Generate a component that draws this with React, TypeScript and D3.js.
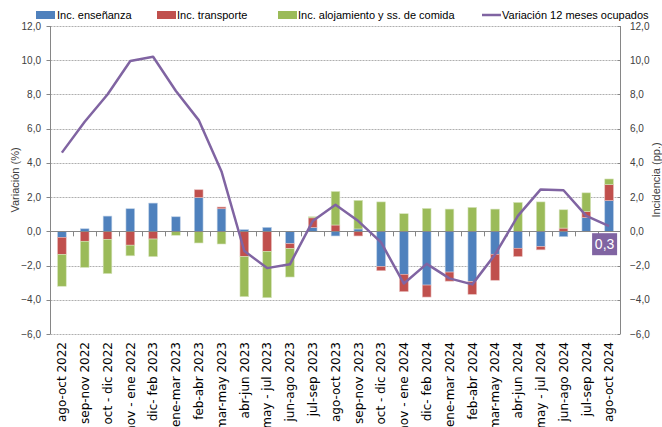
import React from "react";
import * as d3 from "d3";

const categories = [
  "ago-oct 2022", "sep-nov 2022", "oct - dic 2022", "nov - ene 2022", "dic- feb 2023",
  "ene-mar 2023", "feb-abr 2023", "mar-may 2023", "abr-jun 2023", "may - jul 2023",
  "jun-ago 2023", "jul-sep 2023", "ago-oct 2023", "sep-nov 2023", "oct - dic 2023",
  "nov - ene 2024", "dic- feb 2024", "ene-mar 2024", "feb-abr 2024", "mar-may 2024",
  "abr-jun 2024", "may - jul 2024", "jun-ago 2024", "jul-sep 2024", "ago-oct 2024",
];

const ensenanza = [
  -0.35, 0.15, 0.89, 1.32, 1.65, 0.85, 1.98, 1.32, 0.1, 0.23, -0.72, 0.23, -0.27,
  0.14, -2.05, -2.51, -3.14, -2.38, -2.94, -1.34, -0.99, -0.89, -0.31, 0.81, 1.8,
];
const transporte = [
  -1.0, -0.58, -0.47, -0.81, -0.45, 0, 0.45, 0.1, -1.48, -1.17, -0.29, 0.56, 0.37,
  -0.27, -0.25, -1.01, -0.7, -0.53, -0.74, -1.52, -0.48, -0.19, 0.19, 0.35, 0.93,
];
const alojamiento = [
  -1.86, -1.53, -2.0, -0.62, -1.03, -0.23, -0.68, -0.74, -2.34, -2.71, -1.66, 0.06,
  1.96, 1.67, 1.72, 1.03, 1.34, 1.3, 1.4, 1.3, 1.69, 1.72, 1.07, 1.09, 0.33,
];
const ocupados = [
  4.6, 6.4, 8.0, 9.95, 10.2, 8.2, 6.5, 3.5, -1.15, -2.15, -1.93, 0.6, 1.55, 0.6,
  -0.65, -3.05, -1.9, -2.75, -3.1, -1.35, 0.9, 2.45, 2.4, 0.9, 0.3,
];

const yTicks = [-6, -4, -2, 0, 2, 4, 6, 8, 10, 12];

const series = [
  { name: "Inc. enseñanza", values: ensenanza, color: "#4F81BD", edge: "#B9CDE5" },
  { name: "Inc. transporte", values: transporte, color: "#C0504D", edge: "#E6B9B8" },
  { name: "Inc. alojamiento y ss. de comida", values: alojamiento, color: "#9BBB59", edge: "#D7E4BD" },
];
const lineColor = "#8064A2";

const width = 662;
const height = 427;
const left = 50.5;
const right = 620.5;
const top = 26;
const bottom = 334;
const font = "'Liberation Sans', Arial, sans-serif";

const fmt = d3.formatLocale({
  decimal: ",",
  thousands: ".",
  grouping: [3],
  currency: ["", "€"],
}).format(".1f");

export default function App() {
  const x = d3.scaleBand<string>().domain(categories).range([left, right]).padding(0);
  const y = d3.scaleLinear().domain([-6, 12]).range([bottom, top]);
  const bw = x.bandwidth() * 0.38;

  // excel-style stacking: positives up, negatives down, in series order
  const bars: { x: number; y0: number; y1: number; s: (typeof series)[0] }[] = [];
  categories.forEach((c, i) => {
    let pos = 0;
    let neg = 0;
    const bx = x(c)! + (x.bandwidth() - bw) / 2;
    series.forEach((s) => {
      const v = s.values[i];
      if (v >= 0) {
        bars.push({ x: bx, y0: pos, y1: pos + v, s });
        pos += v;
      } else {
        bars.push({ x: bx, y0: neg, y1: neg + v, s });
        neg += v;
      }
    });
  });

  const line = d3
    .line<number>()
    .x((_, i) => x(categories[i])! + x.bandwidth() / 2)
    .y((d) => y(d));

  const lastX = x(categories[categories.length - 1])! + x.bandwidth() / 2;
  const lastVal = ocupados[ocupados.length - 1];

  const legend = [
    { x: 36, tx: 57, label: series[0].name, color: series[0].color, kind: "rect" },
    { x: 157, tx: 177, label: series[1].name, color: series[1].color, kind: "rect" },
    { x: 278, tx: 298, label: series[2].name, color: series[2].color, kind: "rect" },
    { x: 482, tx: 502, label: "Variación 12 meses ocupados", color: lineColor, kind: "line" },
  ];

  return (
    <svg
      width={width}
      height={height}
      style={{ position: "absolute", left: 0, top: 0, background: "#fff" }}
      fontFamily={font}
    >
      {/* gridlines */}
      {yTicks.filter((t) => t !== 0).map((t) => (
        <line
          key={"g" + t}
          x1={left}
          x2={right}
          y1={Math.round(y(t)) + 0.5}
          y2={Math.round(y(t)) + 0.5}
          stroke="#9A9A9A"
          strokeDasharray="2,1"
          strokeWidth={0.8}
        />
      ))}
      {/* axes */}
      <line x1={left} x2={left} y1={top} y2={bottom} stroke="#868686" />
      <line x1={right} x2={right} y1={top} y2={bottom} stroke="#868686" />
      {yTicks.map((t) => (
        <g key={"t" + t}>
          <line x1={left - 4} x2={left} y1={Math.round(y(t)) + 0.5} y2={Math.round(y(t)) + 0.5} stroke="#868686" />
          <line x1={right - 3} x2={right} y1={Math.round(y(t)) + 0.5} y2={Math.round(y(t)) + 0.5} stroke="#868686" />
          <text x={41} y={y(t)} dy="0.35em" textAnchor="end" fontSize={10} fill="#404040">
            {fmt(t)}
          </text>
          <text x={630} y={y(t)} dy="0.35em" textAnchor="start" fontSize={10} fill="#404040">
            {fmt(t)}
          </text>
        </g>
      ))}
      <text
        transform={`translate(15,${(top + bottom) / 2}) rotate(-90)`}
        textAnchor="middle"
        dy="0.35em"
        fontSize={11}
        fill="#404040"
      >
        Variación (%)
      </text>
      <text
        transform={`translate(656,${(top + bottom) / 2}) rotate(-90)`}
        textAnchor="middle"
        dy="0.35em"
        fontSize={11}
        fill="#404040"
      >
        Incidencia (pp.)
      </text>

      {/* bars */}
      {bars.map((b, i) => (
        <rect
          key={"b" + i}
          x={b.x}
          width={bw}
          y={y(Math.max(b.y0, b.y1))}
          height={Math.abs(y(b.y0) - y(b.y1))}
          fill={b.s.color}
          stroke={b.s.edge}
          strokeWidth={0.6}
        />
      ))}

      {/* zero axis + category ticks */}
      <line x1={left} x2={right} y1={Math.round(y(0)) + 0.5} y2={Math.round(y(0)) + 0.5} stroke="#868686" />
      {categories.map((c, i) =>
        i === 0 ? null : (
          <line
            key={"ct" + c}
            x1={Math.round(x(c)!) + 0.5}
            x2={Math.round(x(c)!) + 0.5}
            y1={y(0)}
            y2={y(0) + 5}
            stroke="#868686"
          />
        )
      )}

      {/* line */}
      <path d={line(ocupados) || ""} fill="none" stroke={lineColor} strokeWidth={2.5} strokeLinejoin="round" />

      {/* data label on last point */}
      <rect x={lastX - 17} y={y(lastVal) + 7} width={25} height={22} fill={lineColor} />
      <text x={lastX - 4.5} y={y(lastVal) + 18} dy="0.35em" textAnchor="middle" fontSize={14} fill="#fff">
        {fmt(lastVal)}
      </text>

      {/* x labels */}
      {categories.map((c) => (
        <text
          key={"xl" + c}
          transform={`translate(${x(c)! + x.bandwidth() / 2},${bottom + 8}) rotate(-90)`}
          textAnchor="end"
          dy="0.35em"
          fontSize={12}
          fontFamily="'DejaVu Sans', sans-serif"
          fill="#000"
        >
          {c}
        </text>
      ))}

      {/* legend */}
      {legend.map((l) => (
        <g key={"l" + l.label}>
          {l.kind === "rect" ? (
            <rect x={l.x} y={11} width={19} height={8} fill={l.color} />
          ) : (
            <line x1={l.x} x2={l.x + 19} y1={15} y2={15} stroke={l.color} strokeWidth={2.5} />
          )}
          <text x={l.tx} y={15} dy="0.35em" fontSize={11} fill="#000">
            {l.label}
          </text>
        </g>
      ))}
    </svg>
  );
}
